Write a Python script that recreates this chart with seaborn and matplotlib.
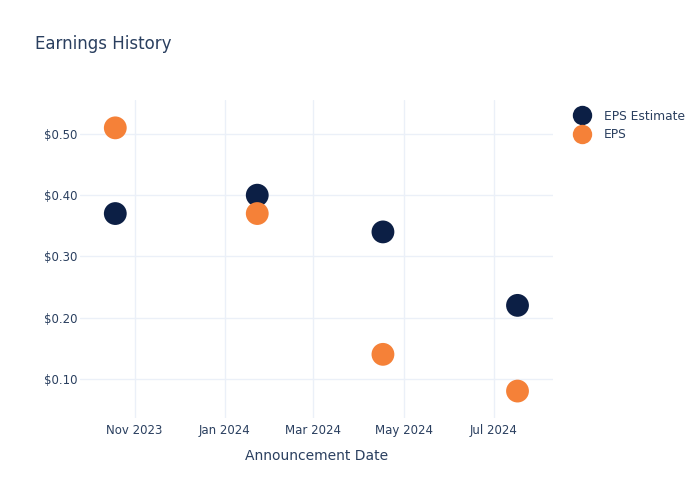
import matplotlib.pyplot as plt
import matplotlib.dates as mdates
import matplotlib.ticker as mticker
import pandas as pd
import seaborn as sns

dates = ["2023-10-19", "2024-01-23", "2024-04-17", "2024-07-17"]
eps_estimate = [0.37, 0.40, 0.34, 0.22]
eps_actual = [0.51, 0.37, 0.14, 0.08]

text_color = "#2a3f5f"
grid_color = "#ebf0f8"
palette = {"EPS Estimate": "#0c1f45", "EPS": "#f58138"}

df = pd.DataFrame({
    "date": pd.to_datetime(dates * 2),
    "value": eps_estimate + eps_actual,
    "series": ["EPS Estimate"] * len(dates) + ["EPS"] * len(dates),
})

sns.set_theme(style="white")
plt.rcParams["font.family"] = ["DejaVu Sans"]

fig = plt.figure(figsize=(7, 5), dpi=100)
ax = fig.add_axes([0.114, 0.164, 0.676, 0.636])
sns.scatterplot(data=df, x="date", y="value", hue="series", palette=palette,
                s=270, edgecolor="none", ax=ax, zorder=3)

ax.set_xlim(pd.Timestamp("2023-09-25"), pd.Timestamp("2024-08-10"))
ax.set_ylim(0.036, 0.5555)
ax.xaxis.set_major_locator(mdates.MonthLocator(bymonth=[1, 3, 5, 7, 11]))
ax.xaxis.set_major_formatter(mdates.DateFormatter("%b %Y"))
ax.yaxis.set_major_locator(mticker.FixedLocator([0.1, 0.2, 0.3, 0.4, 0.5]))
ax.yaxis.set_major_formatter(mticker.FuncFormatter(lambda v, p: f"${v:.2f}"))

ax.grid(True, color=grid_color, linewidth=1)
for s in ax.spines.values():
    s.set_visible(False)
ax.tick_params(axis="both", length=0, labelsize=8.5, colors=text_color)
ax.tick_params(axis="x", pad=4)
ax.tick_params(axis="y", pad=2)
ax.set_xlabel("Announcement Date", fontsize=10, color=text_color, labelpad=9)
ax.set_ylabel("")

fig.text(0.05, 0.912, "Earnings History", fontsize=12, color=text_color, va="center")

leg = ax.legend(loc="upper left", bbox_to_anchor=(1.025, 0.985), frameon=False,
                fontsize=8.8, handletextpad=0.8, borderaxespad=0, markerscale=0.85,
                labelspacing=0.45)
for t in leg.get_texts():
    t.set_color(text_color)

fig.savefig("out.png", dpi=100)
